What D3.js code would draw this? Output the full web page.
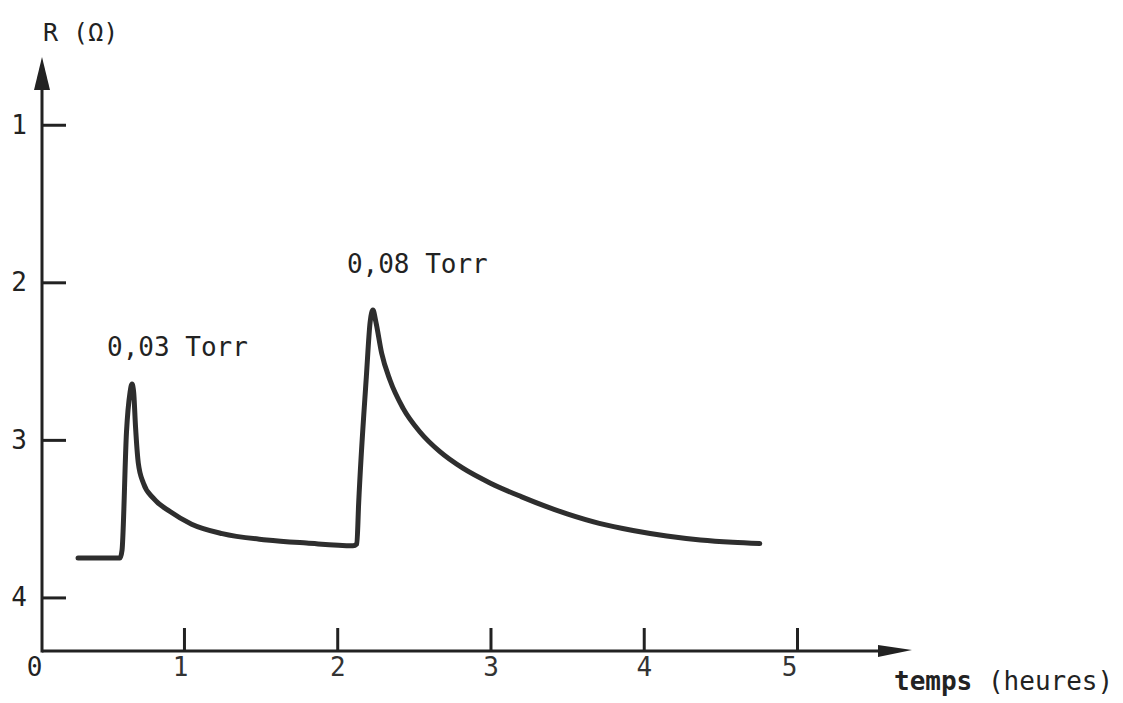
<!DOCTYPE html>
<html>
<head>
<meta charset="utf-8">
<script src="https://cdn.jsdelivr.net/npm/d3@7"></script>
<style>
  html, body { margin: 0; padding: 0; background: #fff; }
  svg { display: block; }
</style>
</head>
<body>
<svg id="chart" width="1123" height="703"></svg>
<script>
// ---- data (time in hours, resistance in ohms) ----
const timeH = [0.309, 0.583, 0.596, 0.625, 0.648, 0.661, 0.672, 0.684, 0.702, 0.735, 0.800, 0.909, 1.05, 1.25, 1.54, 1.80, 2.103,
               2.128, 2.140, 2.190, 2.215, 2.233, 2.252, 2.290, 2.344, 2.430, 2.540, 2.670, 2.820, 3.000, 3.200, 3.500, 3.710, 3.930, 4.150, 4.370, 4.580, 4.757];
const resistance = [3.750, 3.750, 3.700, 2.950, 2.700, 2.645, 2.700, 2.918, 3.147, 3.274, 3.370, 3.455, 3.535, 3.595, 3.635, 3.655, 3.672,
                    3.660, 3.400, 2.600, 2.250, 2.176, 2.250, 2.450, 2.620, 2.800, 2.950, 3.075, 3.180, 3.275, 3.360, 3.470, 3.530, 3.575, 3.610, 3.635, 3.650, 3.658];
const xTicks = [1, 2, 3, 4, 5];
const yTicks = [1, 2, 3, 4];
const annoText = ["0,03 Torr", "0,08 Torr"];
const annoT = [0.498, 2.063];
const annoR = [2.465, 1.939];

const svg = d3.select("#chart");
const font = "'DejaVu Sans Mono', 'Liberation Mono', monospace";
const ink = "#222";

const x = d3.scaleLinear().domain([0, 5]).range([30.7, 797]);
const y = d3.scaleLinear().domain([0.57, 4.34]).range([57, 651]);

const axisX0 = 42;          // y-axis position (px)
const axisY0 = y(4.34);     // x-axis position
const xEnd = 912, yTop = y(0.57);

// axis lines
svg.append("line").attr("x1", axisX0).attr("y1", axisY0 + 1.5).attr("x2", axisX0).attr("y2", yTop + 20)
  .attr("stroke", ink).attr("stroke-width", 3);
svg.append("line").attr("x1", axisX0).attr("y1", axisY0).attr("x2", xEnd - 20).attr("y2", axisY0)
  .attr("stroke", ink).attr("stroke-width", 3);
// arrowheads
svg.append("path").attr("d", `M${axisX0},${yTop} L${axisX0 + 8},${yTop + 33} L${axisX0 - 8},${yTop + 33} Z`).attr("fill", ink);
svg.append("path").attr("d", `M${xEnd},${axisY0 - 1} L${xEnd - 34},${axisY0 + 6} L${xEnd - 34},${axisY0 - 6} Z`).attr("fill", ink);

// y axis ticks
const yAxis = d3.axisLeft(y).tickValues(yTicks).tickSize(-24).tickPadding(15).tickFormat(d3.format("d"));
const gy = svg.append("g").attr("transform", `translate(${axisX0},0)`).call(yAxis);
gy.select(".domain").remove();
gy.selectAll(".tick line").attr("stroke", ink).attr("stroke-width", 3);
gy.selectAll(".tick text").attr("font-family", font).attr("font-size", 26).attr("fill", ink);

// x axis ticks
const xAxis = d3.axisBottom(x).tickValues(xTicks).tickSize(-23).tickPadding(7).tickFormat(d3.format("d"));
const gx = svg.append("g").attr("transform", `translate(0,${axisY0})`).call(xAxis);
gx.select(".domain").remove();
gx.selectAll(".tick line").attr("stroke", ink).attr("stroke-width", 3);
gx.selectAll(".tick text").attr("font-family", font).attr("font-size", 26).attr("fill", "#333")
  .attr("dx", d => d === 1 ? -4 : (d === 5 ? -8 : 0));

// origin label
svg.append("text").attr("x", x(0) + 4).attr("y", axisY0 + 7).attr("dy", "0.71em")
  .attr("text-anchor", "middle").attr("font-family", font).attr("font-size", 26).attr("fill", ink).text("0");

// axis titles
svg.append("text").attr("x", 43).attr("y", 41).attr("font-family", font).attr("font-size", 25).attr("fill", ink)
  .text("R (Ω)");
const tt = svg.append("text").attr("x", 894).attr("y", 690).attr("font-family", font).attr("font-size", 26).attr("fill", ink);
tt.append("tspan").attr("font-weight", "bold").text("temps");
tt.append("tspan").text(" (heures)");

// curve
const pts = timeH.map((t, i) => [t, resistance[i]]);
const line = d3.line().x(d => x(d[0])).y(d => y(d[1])).curve(d3.curveMonotoneX);
svg.append("path").datum(pts).attr("d", line)
  .attr("fill", "none").attr("stroke", "#2e2e2e").attr("stroke-width", 5)
  .attr("stroke-linecap", "round").attr("stroke-linejoin", "round");

// annotations
annoText.forEach((s, i) => {
  svg.append("text").attr("x", x(annoT[i])).attr("y", y(annoR[i]))
    .attr("font-family", font).attr("font-size", 26).attr("fill", ink).text(s);
});
</script>
</body>
</html>
